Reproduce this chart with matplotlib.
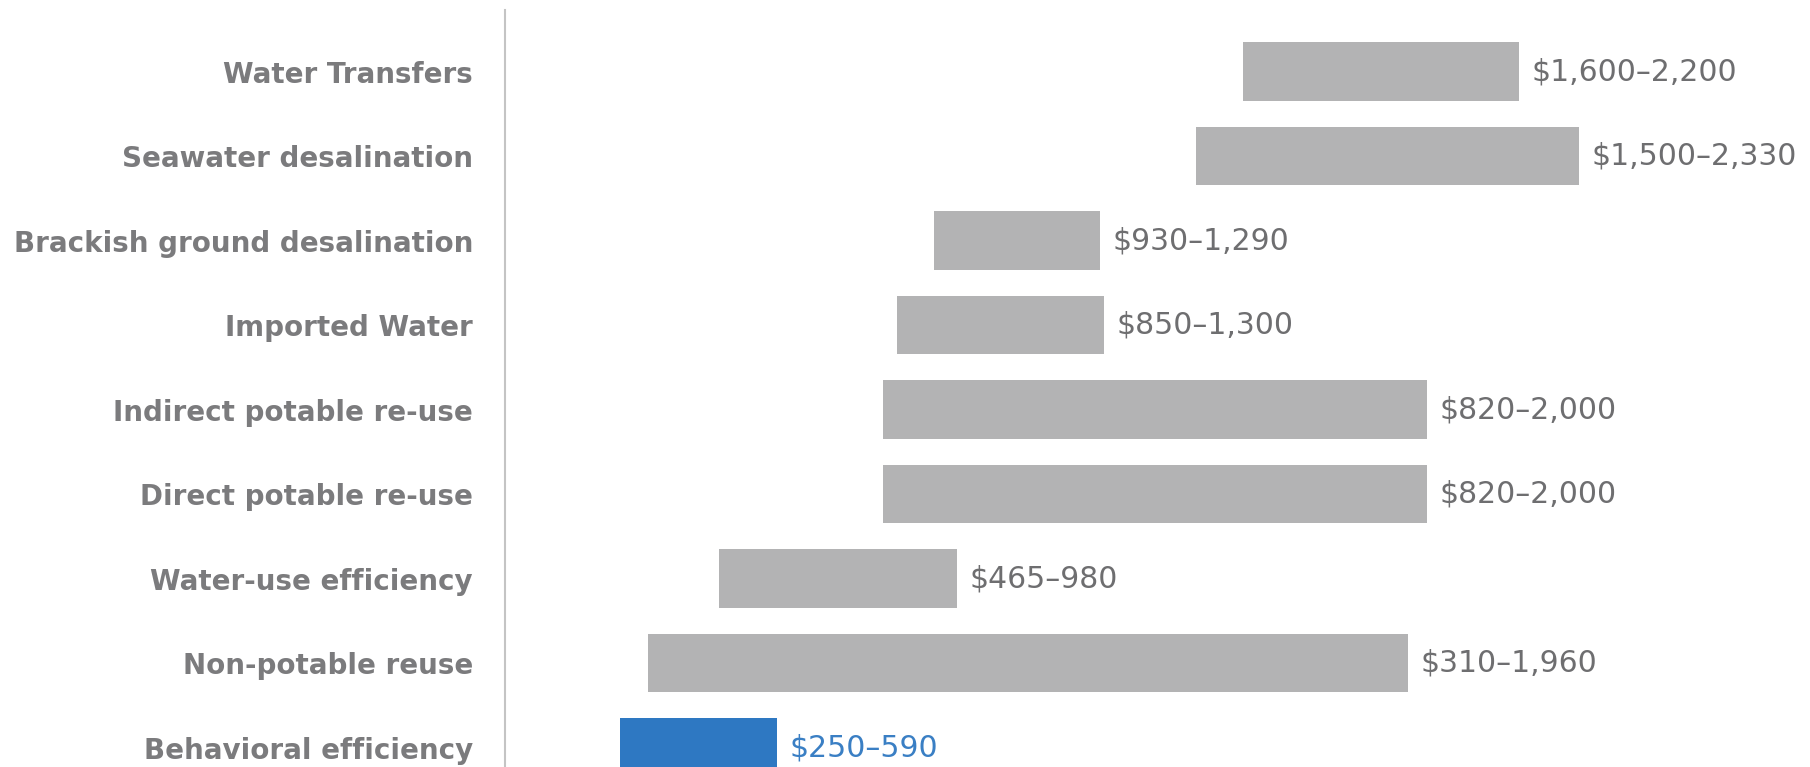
import matplotlib.pyplot as plt

# cost ranges, $ per acre-foot (top to bottom as in the chart)
categories = ["Water Transfers", "Seawater desalination", "Brackish ground desalination",
              "Imported Water", "Indirect potable re-use", "Direct potable re-use",
              "Water-use efficiency", "Non-potable reuse", "Behavioral efficiency"]
low = [1600, 1500, 930, 850, 820, 820, 465, 310, 250]
high = [2200, 2330, 1290, 1300, 2000, 2000, 980, 1960, 590]
range_labels = ["$1,600\u20132,200", "$1,500\u20132,330", "$930\u20131,290", "$850\u20131,300",
                "$820\u20132,000", "$820\u20132,000", "$465\u2013980", "$310\u20131,960",
                "$250\u2013590"]
highlight = "Behavioral efficiency"

grey = "#b3b3b4"
blue = "#2e78c2"

fig = plt.figure(figsize=(18.1, 7.67), dpi=100)
ax = fig.add_axes([505 / 1810, 0, 1 - 505 / 1810, 1 - 10 / 767])

ypos = list(range(len(categories)))
colors = [blue if c == highlight else grey for c in categories]
widths = [h - l for l, h in zip(low, high)]
ax.barh(ypos, widths, left=low, height=0.69, color=colors)

for y, h, lab, c in zip(ypos, high, range_labels, categories):
    tc = "#3a7fc4" if c == highlight else "#6e6e70"
    ax.annotate(lab, (h, y), xytext=(9, 0), textcoords="offset points",
                ha="left", va="center", fontsize=21.5, color=tc)

ax.set_xlim(0, 2831)
ax.set_ylim(8.23, -0.728)
ax.set_yticks(ypos)
ax.set_yticklabels(categories, fontsize=20, fontweight="bold", color="#7b7b7d")
ax.tick_params(axis="y", length=0, pad=23)
ax.set_xticks([])
for s in ["top", "right", "bottom"]:
    ax.spines[s].set_visible(False)
ax.spines["left"].set_color("#c4c4c4")
ax.spines["left"].set_linewidth(1.5)

fig.savefig("out.png", dpi=100)
